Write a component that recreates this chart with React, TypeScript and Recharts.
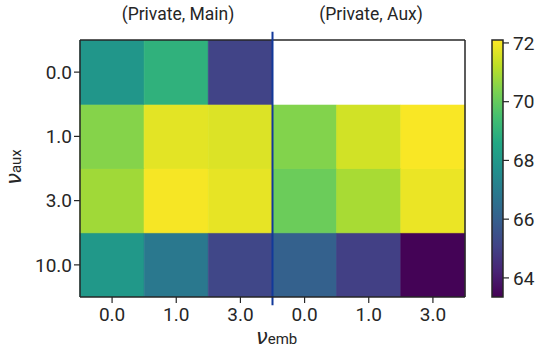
import React from 'react';
import { BarChart, Bar, XAxis, YAxis, Cell, ReferenceLine } from 'recharts';

const colKeys = ['c0', 'c1', 'c2', 'c3', 'c4', 'c5'];
const colLabels = ['0.0', '1.0', '3.0', '0.0', '1.0', '3.0'];
const rowLabels = ['0.0', '1.0', '3.0', '10.0'];
const row0 = [67.9, 68.95, 65.1, null, null, null];
const row1 = [70.5, 71.75, 71.65, 70.45, 71.5, 72.05];
const row3 = [70.85, 72.0, 71.8, 70.1, 70.95, 71.85];
const row10 = [68.0, 66.85, 65.2, 66.05, 65.0, 63.4];
const groupTitles = ['(Private, Main)', '(Private, Aux)'];
const cbTicks = [64, 66, 68, 70, 72];
const vMin = 63.35;
const vMax = 72.1;

const viridis = ['#440154', '#482475', '#414487', '#355f8d', '#2a788e', '#21918c', '#22a884', '#44bf70', '#7ad151', '#bddf26', '#fde725'];

function hex(c: string) {
  return [1, 3, 5].map((i) => parseInt(c.slice(i, i + 2), 16));
}
function colorFor(v: number | null) {
  if (v == null) return '#ffffff';
  let t = (v - vMin) / (vMax - vMin);
  t = Math.max(0, Math.min(1, t));
  const p = t * (viridis.length - 1);
  const i = Math.min(Math.floor(p), viridis.length - 2);
  const f = p - i;
  const a = hex(viridis[i]);
  const b = hex(viridis[i + 1]);
  const m = a.map((x, k) => Math.round(x + (b[k] - x) * f));
  return `rgb(${m[0]},${m[1]},${m[2]})`;
}

// stacked bottom -> top: row 10.0, 3.0, 1.0, 0.0
const rowsBottomUp = [row10, row3, row1, row0];
const data = colKeys.map((k) => ({ key: k, s0: 1, s1: 1, s2: 1, s3: 1 }));

const yTickPos = [3.5, 2.5, 1.5, 0.5];
const font = 'Roboto, sans-serif';
const ink = '#262626';
const tickFont = { fontSize: 19, fill: ink, fontFamily: font };

export default function App() {
  return (
    <div style={{ position: 'absolute', left: 0, top: 0, width: 540, height: 358, background: '#fff', fontFamily: font }}>
      <div style={{ position: 'absolute', left: 0, top: 0 }}>
        <BarChart width={540} height={358} data={data} margin={{ top: 40, right: 75, bottom: 21, left: 20 }} barCategoryGap={0} barGap={0}>
          <XAxis
            dataKey="key"
            tickFormatter={(v: string) => colLabels[colKeys.indexOf(v)]}
            height={40}
            tick={tickFont}
            tickLine={{ stroke: ink, strokeWidth: 1.2 }}
            axisLine={{ stroke: ink, strokeWidth: 1.5 }}
            tickSize={6}
            tickMargin={5}
            interval={0}
          />
          <YAxis
            type="number"
            domain={[0, 4]}
            ticks={yTickPos}
            tickFormatter={(v: number) => rowLabels[yTickPos.indexOf(v)]}
            width={60}
            tick={tickFont}
            tickLine={{ stroke: ink, strokeWidth: 1.2 }}
            axisLine={{ stroke: ink, strokeWidth: 1.5 }}
            tickSize={6}
            allowDataOverflow
          />
          {rowsBottomUp.map((row, r) => (
            <Bar key={r} dataKey={`s${r}`} stackId="h" isAnimationActive={false}>
              {row.map((v, i) => (
                <Cell key={i} fill={colorFor(v)} stroke={colorFor(v)} strokeWidth={0.8} />
              ))}
            </Bar>
          ))}
          <ReferenceLine y={4} stroke={ink} strokeWidth={1.5} ifOverflow="visible" />
          <ReferenceLine
            segment={[{ x: 'c5', y: 0 }, { x: 'c5', y: 4 }]}
            position="end"
            stroke={ink}
            strokeWidth={1.5}
            ifOverflow="visible"
          />
          <ReferenceLine
            segment={[{ x: 'c3', y: -0.13 }, { x: 'c3', y: 4.13 }]}
            position="start"
            stroke="#12399a"
            strokeWidth={2}
            ifOverflow="visible"
          />
        </BarChart>
      </div>
      <div style={{ position: 'absolute', left: 480, top: 0 }}>
        <BarChart width={60} height={358} data={[{ k: 'cb', range: [vMin, vMax] }]} margin={{ top: 40, right: 0, bottom: 61, left: 12 }} barCategoryGap={0}>
          <defs>
            <linearGradient id="viridisGrad" x1="0" y1="1" x2="0" y2="0">
              {viridis.map((c, i) => (
                <stop key={i} offset={`${(i / (viridis.length - 1)) * 100}%`} stopColor={c} />
              ))}
            </linearGradient>
          </defs>
          <XAxis dataKey="k" hide />
          <YAxis
            type="number"
            orientation="right"
            domain={[vMin, vMax]}
            ticks={cbTicks}
            width={37}
            tick={tickFont}
            tickLine={{ stroke: ink, strokeWidth: 1.2 }}
            axisLine={false}
            tickSize={6}
            tickMargin={4}
          />
          <Bar dataKey="range" fill="url(#viridisGrad)" stroke={ink} strokeWidth={1.5} isAnimationActive={false} />
        </BarChart>
      </div>
      {groupTitles.map((t, i) => (
        <div key={i} style={{ position: 'absolute', top: 4, left: i === 0 ? 82 : 275, width: 192, textAlign: 'center', fontSize: 17.5, color: ink, whiteSpace: 'nowrap' }}>
          {t}
        </div>
      ))}
      <div style={{ position: 'absolute', left: 256, top: 325, fontSize: 21, color: ink, whiteSpace: 'nowrap' }}>
        <span style={{ fontFamily: 'DejaVu Sans', fontStyle: 'italic' }}>ν</span>
        <span style={{ fontSize: 15 }}>emb</span>
      </div>
      <div style={{ position: 'absolute', left: -10, top: 155, width: 48, transform: 'rotate(-90deg)', transformOrigin: 'center', fontSize: 21, color: ink, whiteSpace: 'nowrap', textAlign: 'center' }}>
        <span style={{ fontFamily: 'DejaVu Sans', fontStyle: 'italic' }}>ν</span>
        <span style={{ fontSize: 15 }}>aux</span>
      </div>
    </div>
  );
}
